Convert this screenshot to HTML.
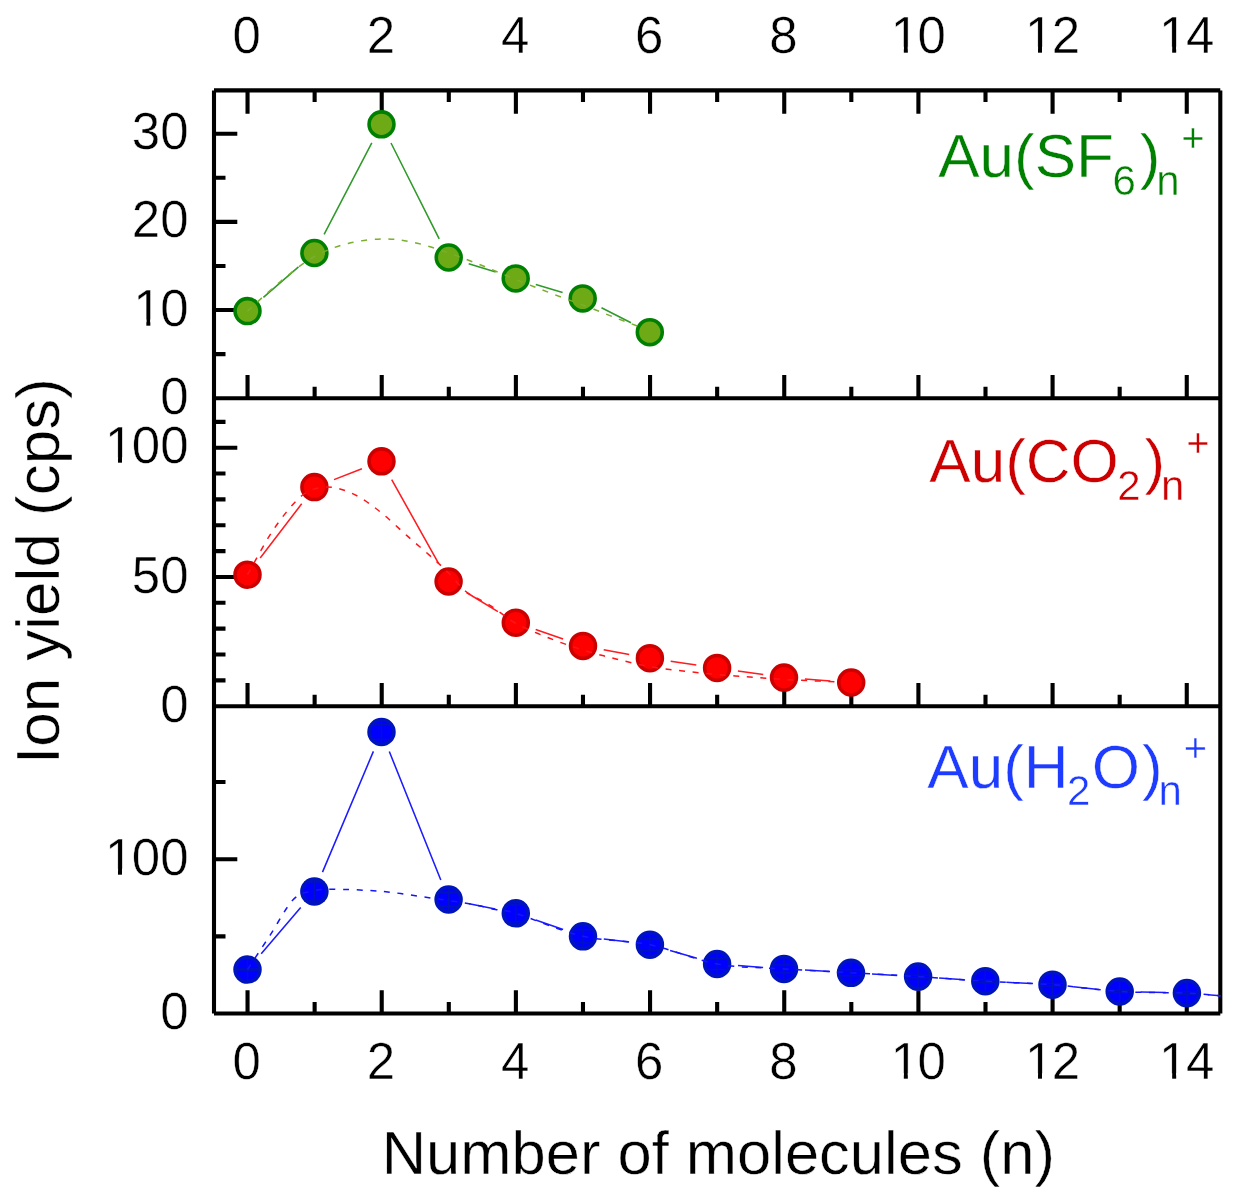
<!DOCTYPE html><html><head><meta charset="utf-8"><title>Ion yield</title><style>html,body{margin:0;padding:0;background:#fff}body{width:1238px;height:1200px;position:relative;overflow:hidden}</style></head><body><svg width="1238" height="1200" viewBox="0 0 1238 1200" style="position:absolute;left:0;top:0">
<rect width="1238" height="1200" fill="#fff"/>
<g stroke="#000" stroke-width="4.1" fill="none" stroke-linecap="butt">
<path d="M214.0 1013.5V90.4M214.0 90.4H1220.3M1220.3 90.4V1013.5"/>
<path d="M214.0 1013.5H1220.3M214.0 398.2H1220.3M214.0 706.2H1220.3"/>
<path d="M247.54 90.4v23.3M247.54 398.2v-23.3M247.54 706.2v-23.3M247.54 1013.5v-23.3M314.63 90.4v11.5M314.63 398.2v-11.5M314.63 706.2v-11.5M314.63 1013.5v-11.5M381.72 90.4v23.3M381.72 398.2v-23.3M381.72 706.2v-23.3M381.72 1013.5v-23.3M448.80 90.4v11.5M448.80 398.2v-11.5M448.80 706.2v-11.5M448.80 1013.5v-11.5M515.89 90.4v23.3M515.89 398.2v-23.3M515.89 706.2v-23.3M515.89 1013.5v-23.3M582.98 90.4v11.5M582.98 398.2v-11.5M582.98 706.2v-11.5M582.98 1013.5v-11.5M650.06 90.4v23.3M650.06 398.2v-23.3M650.06 706.2v-23.3M650.06 1013.5v-23.3M717.15 90.4v11.5M717.15 398.2v-11.5M717.15 706.2v-11.5M717.15 1013.5v-11.5M784.24 90.4v23.3M784.24 398.2v-23.3M784.24 706.2v-23.3M784.24 1013.5v-23.3M851.32 90.4v11.5M851.32 398.2v-11.5M851.32 706.2v-11.5M851.32 1013.5v-11.5M918.41 90.4v23.3M918.41 398.2v-23.3M918.41 706.2v-23.3M918.41 1013.5v-23.3M985.50 90.4v11.5M985.50 398.2v-11.5M985.50 706.2v-11.5M985.50 1013.5v-11.5M1052.58 90.4v23.3M1052.58 398.2v-23.3M1052.58 706.2v-23.3M1052.58 1013.5v-23.3M1119.67 90.4v11.5M1119.67 398.2v-11.5M1119.67 706.2v-11.5M1119.67 1013.5v-11.5M1186.76 90.4v23.3M1186.76 398.2v-23.3M1186.76 706.2v-23.3M1186.76 1013.5v-23.3"/>
<path d="M214.0 354.12h11.5M214.0 310.03h23.3M214.0 265.94h11.5M214.0 221.86h23.3M214.0 177.77h11.5M214.0 133.69h23.3"/>
<path d="M214.0 680.35h11.5M214.0 654.50h11.5M214.0 628.65h11.5M214.0 602.80h11.5M214.0 576.95h23.3M214.0 551.10h11.5M214.0 525.25h11.5M214.0 499.40h11.5M214.0 473.55h11.5M214.0 447.70h23.3M214.0 421.85h11.5"/>
<path d="M214.0 936.35h11.5M214.0 859.20h23.3M214.0 782.05h11.5"/>
</g>
<path d="M263.4 297.3L298.5 266.8M324.1 234.4L371.8 142.9M391.0 143.0L439.2 238.8M468.7 263.8L495.7 272.1M535.8 284.4L562.6 292.4M601.5 307.8L631.0 322.8" fill="none" stroke="#2f9a2a" stroke-width="1.55"/>
<circle cx="247.5" cy="311.1" r="12.45" fill="#6eaa16" stroke="#008000" stroke-width="3.6"/>
<circle cx="314.4" cy="253.0" r="12.45" fill="#6eaa16" stroke="#008000" stroke-width="3.6"/>
<circle cx="381.5" cy="124.3" r="12.45" fill="#6eaa16" stroke="#008000" stroke-width="3.6"/>
<circle cx="448.7" cy="257.5" r="12.45" fill="#6eaa16" stroke="#008000" stroke-width="3.6"/>
<circle cx="515.7" cy="278.4" r="12.45" fill="#6eaa16" stroke="#008000" stroke-width="3.6"/>
<circle cx="582.7" cy="298.4" r="12.45" fill="#6eaa16" stroke="#008000" stroke-width="3.6"/>
<circle cx="649.8" cy="332.2" r="12.45" fill="#6eaa16" stroke="#008000" stroke-width="3.6"/>
<path d="M247.5 311.1C253.1 306.1 269.9 290.1 281.0 281.0C292.1 271.9 303.2 262.8 314.4 256.5C325.6 250.2 336.4 246.4 348.0 243.5C359.6 240.6 372.7 239.0 384.0 238.9C395.3 238.8 405.2 240.7 416.0 243.0C426.8 245.3 437.7 249.2 448.7 253.0C459.7 256.8 470.8 261.1 482.0 265.5C493.2 269.9 504.5 275.0 515.7 279.5C526.9 284.0 537.8 288.2 549.0 292.5C560.2 296.8 571.5 300.8 582.7 305.0C593.9 309.2 606.5 314.3 616.0 318.0C625.5 321.7 636.0 325.5 640.0 327.0" fill="none" stroke="#7aae2e" stroke-width="1.5" stroke-dasharray="6 7.6"/>
<path d="M260.2 558.0L301.7 503.8M334.0 479.6L361.9 468.8M391.7 479.6L438.4 563.2M466.5 592.5L497.9 611.7M535.7 629.6L563.1 639.0M603.7 649.7L629.2 654.4M670.7 661.2L696.3 664.9M737.9 670.9L763.2 674.6M804.9 679.1L830.3 681.0" fill="none" stroke="#ff1c20" stroke-width="1.55"/>
<circle cx="247.5" cy="574.7" r="12.45" fill="#ff0000" stroke="#cc0000" stroke-width="3.6"/>
<circle cx="314.4" cy="487.1" r="12.45" fill="#ff0000" stroke="#cc0000" stroke-width="3.6"/>
<circle cx="381.5" cy="461.3" r="12.45" fill="#ff0000" stroke="#cc0000" stroke-width="3.6"/>
<circle cx="448.6" cy="581.5" r="12.45" fill="#ff0000" stroke="#cc0000" stroke-width="3.6"/>
<circle cx="515.8" cy="622.7" r="12.45" fill="#ff0000" stroke="#cc0000" stroke-width="3.6"/>
<circle cx="583.0" cy="645.9" r="12.45" fill="#ff0000" stroke="#cc0000" stroke-width="3.6"/>
<circle cx="649.9" cy="658.2" r="12.45" fill="#ff0000" stroke="#cc0000" stroke-width="3.6"/>
<circle cx="717.1" cy="667.9" r="12.45" fill="#ff0000" stroke="#cc0000" stroke-width="3.6"/>
<circle cx="784.0" cy="677.6" r="12.45" fill="#ff0000" stroke="#cc0000" stroke-width="3.6"/>
<circle cx="851.2" cy="682.5" r="12.45" fill="#ff0000" stroke="#cc0000" stroke-width="3.6"/>
<path d="M247.5 574.7C251.0 568.5 261.9 548.1 268.3 537.7C274.7 527.4 280.1 519.9 286.0 512.6C291.9 505.3 298.0 498.2 304.0 494.0C310.0 489.8 316.0 488.1 322.0 487.3C328.0 486.5 333.6 487.3 340.0 489.0C346.4 490.7 353.1 493.5 360.2 497.6C367.3 501.8 374.8 507.4 382.7 513.9C390.6 520.4 399.4 529.0 407.8 536.4C416.2 543.8 426.0 552.1 432.8 558.2C439.6 564.3 443.0 567.4 448.6 573.0C454.2 578.6 459.7 586.6 466.6 592.0C473.5 597.4 481.8 600.1 490.0 605.3C498.2 610.5 506.0 617.8 515.8 623.3C525.6 628.8 537.8 633.5 549.0 638.0C560.2 642.5 571.8 646.5 583.0 650.0C594.2 653.5 604.9 656.2 616.0 659.0C627.1 661.8 638.7 664.6 649.9 666.6C661.1 668.6 671.8 669.7 683.0 671.0C694.2 672.3 705.9 673.5 717.1 674.5C728.3 675.5 738.9 676.2 750.0 677.0C761.1 677.8 772.8 678.8 784.0 679.5C795.2 680.2 807.7 680.6 817.0 681.0C826.3 681.4 836.2 681.7 840.0 681.8" fill="none" stroke="#ff1418" stroke-width="1.5" stroke-dasharray="6 7.6"/>
<path d="M261.2 953.7L300.7 907.4M322.5 872.1L373.4 751.4M389.3 751.5L440.8 880.0M469.2 903.7L495.2 909.1M535.7 920.1L563.1 929.5M603.8 938.9L629.1 942.1M670.1 950.5L696.9 958.2M738.0 965.5L763.1 967.4M805.0 970.1L830.0 971.6M872.0 974.0L897.1 975.4M939.1 978.0L964.3 979.8M1006.3 982.3L1031.5 983.6M1073.4 986.8L1098.8 989.4M1140.7 992.0L1165.9 992.6M1207.8 994.7L1220.5 995.7" fill="none" stroke="#1c1cff" stroke-width="1.55"/>
<circle cx="247.5" cy="969.6" r="12.45" fill="#0000ff" stroke="#0014be" stroke-width="3.6"/>
<path d="M247.5 957.6V981.6M236.0 968.8000000000001H259.0M236.0 970.4H259.0" stroke="#0014be" stroke-width="1.35" fill="none" opacity="0.95"/>
<circle cx="314.4" cy="891.5" r="12.45" fill="#0000ff" stroke="#0014be" stroke-width="3.6"/>
<path d="M314.4 879.5V903.5M304.0 882.1H324.8M304.0 900.9H324.8" stroke="#0014be" stroke-width="1.35" fill="none" opacity="0.95"/>
<circle cx="381.5" cy="732.0" r="12.45" fill="#0000ff" stroke="#0014be" stroke-width="3.6"/>
<path d="M381.5 720.0V744.0M370.0 724.5H393.0M370.0 739.5H393.0" stroke="#0014be" stroke-width="1.35" fill="none" opacity="0.95"/>
<circle cx="448.6" cy="899.5" r="12.45" fill="#0000ff" stroke="#0014be" stroke-width="3.6"/>
<path d="M448.6 887.5V911.5M437.1 892.5H460.1M437.1 906.5H460.1" stroke="#0014be" stroke-width="1.35" fill="none" opacity="0.95"/>
<circle cx="515.8" cy="913.3" r="12.45" fill="#0000ff" stroke="#0014be" stroke-width="3.6"/>
<path d="M515.8 901.3V925.3M504.7 904.8H526.9M504.7 921.8H526.9" stroke="#0014be" stroke-width="1.35" fill="none" opacity="0.95"/>
<circle cx="583.0" cy="936.3" r="12.45" fill="#0000ff" stroke="#0014be" stroke-width="3.6"/>
<path d="M583.0 924.3V948.3M571.5 929.8H594.5M571.5 942.8H594.5" stroke="#0014be" stroke-width="1.35" fill="none" opacity="0.95"/>
<circle cx="649.9" cy="944.7" r="12.45" fill="#0000ff" stroke="#0014be" stroke-width="3.6"/>
<path d="M649.9 932.7V956.7M638.4 938.7H661.4M638.4 950.7H661.4" stroke="#0014be" stroke-width="1.35" fill="none" opacity="0.95"/>
<circle cx="717.1" cy="964.0" r="12.45" fill="#0000ff" stroke="#0014be" stroke-width="3.6"/>
<path d="M717.1 952.0V976.0M705.6 958.5H728.6M705.6 969.5H728.6" stroke="#0014be" stroke-width="1.35" fill="none" opacity="0.95"/>
<circle cx="784.0" cy="968.9" r="12.45" fill="#0000ff" stroke="#0014be" stroke-width="3.6"/>
<path d="M784.0 956.9V980.9M772.5 964.9H795.5M772.5 972.9H795.5" stroke="#0014be" stroke-width="1.35" fill="none" opacity="0.95"/>
<circle cx="851.0" cy="972.8" r="12.45" fill="#0000ff" stroke="#0014be" stroke-width="3.6"/>
<path d="M851.0 960.8V984.8M839.5 969.8H862.5M839.5 975.8H862.5" stroke="#0014be" stroke-width="1.35" fill="none" opacity="0.95"/>
<circle cx="918.1" cy="976.6" r="12.45" fill="#0000ff" stroke="#0014be" stroke-width="3.6"/>
<path d="M918.1 964.6V988.6M906.6 975.1H929.6M906.6 978.1H929.6" stroke="#0014be" stroke-width="1.35" fill="none" opacity="0.95"/>
<circle cx="985.3" cy="981.2" r="12.45" fill="#0000ff" stroke="#0014be" stroke-width="3.6"/>
<path d="M985.3 969.2V993.2M973.8 979.7H996.8M973.8 982.7H996.8" stroke="#0014be" stroke-width="1.35" fill="none" opacity="0.95"/>
<circle cx="1052.5" cy="984.7" r="12.45" fill="#0000ff" stroke="#0014be" stroke-width="3.6"/>
<path d="M1052.5 972.7V996.7M1041.0 983.3000000000001H1064.0M1041.0 986.1H1064.0" stroke="#0014be" stroke-width="1.35" fill="none" opacity="0.95"/>
<circle cx="1119.7" cy="991.5" r="12.45" fill="#0000ff" stroke="#0014be" stroke-width="3.6"/>
<path d="M1119.7 979.5V1003.5M1108.2 990.2H1131.2M1108.2 992.8H1131.2" stroke="#0014be" stroke-width="1.35" fill="none" opacity="0.95"/>
<circle cx="1186.9" cy="993.1" r="12.45" fill="#0000ff" stroke="#0014be" stroke-width="3.6"/>
<path d="M1186.9 981.1V1005.1M1175.4 991.8000000000001H1198.4M1175.4 994.4H1198.4" stroke="#0014be" stroke-width="1.35" fill="none" opacity="0.95"/>
<path d="M247.5 969.6C251.2 963.9 262.5 946.8 270.0 935.3C277.5 923.8 285.9 907.6 292.6 900.3C299.3 893.0 303.3 893.3 310.0 891.5C316.7 889.7 320.6 889.3 332.7 889.3C344.8 889.3 366.0 890.0 382.7 891.5C399.4 893.0 418.2 896.2 432.8 898.3C447.4 900.4 460.0 902.1 470.4 904.0C480.8 905.9 487.8 908.0 495.4 909.5C503.0 911.0 501.2 908.8 515.8 913.3C530.4 917.8 560.6 931.1 583.0 936.3C605.4 941.5 627.5 940.1 649.9 944.7C672.2 949.3 694.8 960.0 717.1 964.0C739.5 968.0 761.7 967.4 784.0 968.9C806.3 970.4 828.6 971.5 851.0 972.8C873.4 974.1 895.7 975.2 918.1 976.6C940.5 978.0 962.9 979.9 985.3 981.2C1007.7 982.6 1030.1 983.0 1052.5 984.7C1074.9 986.4 1097.3 990.1 1119.7 991.5C1142.1 992.9 1170.1 992.4 1186.9 993.1C1203.7 993.8 1214.9 995.3 1220.5 995.7" fill="none" stroke="#1414ff" stroke-width="1.5" stroke-dasharray="6 7.6"/>
<g font-family="'Liberation Sans', sans-serif" fill="#000" stroke="#fff" stroke-width="0.45">
<g transform="translate(246.74 52.80) scale(1 1.015)"><text font-size="51" x="-14.18">0</text>
</g>
<g transform="translate(246.74 1079.40) scale(1 1.015)"><text font-size="51" x="-14.18">0</text>
</g>
<g transform="translate(380.92 52.80) scale(1 1.015)"><text font-size="51" x="-14.18">2</text>
</g>
<g transform="translate(380.92 1079.40) scale(1 1.015)"><text font-size="51" x="-14.18">2</text>
</g>
<g transform="translate(515.09 52.80) scale(1 1.015)"><text font-size="51" x="-14.18">4</text>
</g>
<g transform="translate(515.09 1079.40) scale(1 1.015)"><text font-size="51" x="-14.18">4</text>
</g>
<g transform="translate(649.26 52.80) scale(1 1.015)"><text font-size="51" x="-14.18">6</text>
</g>
<g transform="translate(649.26 1079.40) scale(1 1.015)"><text font-size="51" x="-14.18">6</text>
</g>
<g transform="translate(783.44 52.80) scale(1 1.015)"><text font-size="51" x="-14.18">8</text>
</g>
<g transform="translate(783.44 1079.40) scale(1 1.015)"><text font-size="51" x="-14.18">8</text>
</g>
<g transform="translate(917.61 52.80) scale(1 1.015)"><text font-size="51" x="-26.86 0.00">10</text>
<path d="M-24.62 -5.98H-13.79V1H-24.62ZM-9.78 -5.98H0.16V1H-9.78Z" fill="#fff" stroke="none"/>
</g>
<g transform="translate(917.61 1079.40) scale(1 1.015)"><text font-size="51" x="-26.86 0.00">10</text>
<path d="M-24.62 -5.98H-13.79V1H-24.62ZM-9.78 -5.98H0.16V1H-9.78Z" fill="#fff" stroke="none"/>
</g>
<g transform="translate(1051.78 52.80) scale(1 1.015)"><text font-size="51" x="-26.86 0.00">12</text>
<path d="M-24.62 -5.98H-13.79V1H-24.62ZM-9.78 -5.98H0.16V1H-9.78Z" fill="#fff" stroke="none"/>
</g>
<g transform="translate(1051.78 1079.40) scale(1 1.015)"><text font-size="51" x="-26.86 0.00">12</text>
<path d="M-24.62 -5.98H-13.79V1H-24.62ZM-9.78 -5.98H0.16V1H-9.78Z" fill="#fff" stroke="none"/>
</g>
<g transform="translate(1185.96 52.80) scale(1 1.015)"><text font-size="51" x="-26.86 0.00">14</text>
<path d="M-24.62 -5.98H-13.79V1H-24.62ZM-9.78 -5.98H0.16V1H-9.78Z" fill="#fff" stroke="none"/>
</g>
<g transform="translate(1185.96 1079.40) scale(1 1.015)"><text font-size="51" x="-26.86 0.00">14</text>
<path d="M-24.62 -5.98H-13.79V1H-24.62ZM-9.78 -5.98H0.16V1H-9.78Z" fill="#fff" stroke="none"/>
</g>
<g transform="translate(188.50 413.80) scale(1 1.015)"><text font-size="51" x="-28.36">0</text>
</g>
<g transform="translate(188.50 325.63) scale(1 1.015)"><text font-size="51" x="-55.23 -28.36">10</text>
<path d="M-52.99 -5.98H-42.15V1H-52.99ZM-38.15 -5.98H-28.21V1H-38.15Z" fill="#fff" stroke="none"/>
</g>
<g transform="translate(188.50 237.46) scale(1 1.015)"><text font-size="51" x="-56.73 -28.36">20</text>
</g>
<g transform="translate(188.50 149.29) scale(1 1.015)"><text font-size="51" x="-56.73 -28.36">30</text>
</g>
<g transform="translate(188.50 721.80) scale(1 1.015)"><text font-size="51" x="-28.36">0</text>
</g>
<g transform="translate(188.50 592.55) scale(1 1.015)"><text font-size="51" x="-56.73 -28.36">50</text>
</g>
<g transform="translate(188.50 463.30) scale(1 1.015)"><text font-size="51" x="-83.59 -56.73 -28.36">100</text>
<path d="M-81.35 -5.98H-70.52V1H-81.35ZM-66.51 -5.98H-56.57V1H-66.51Z" fill="#fff" stroke="none"/>
</g>
<g transform="translate(188.50 1029.10) scale(1 1.015)"><text font-size="51" x="-28.36">0</text>
</g>
<g transform="translate(188.50 874.80) scale(1 1.015)"><text font-size="51" x="-83.59 -56.73 -28.36">100</text>
<path d="M-81.35 -5.98H-70.52V1H-81.35ZM-66.51 -5.98H-56.57V1H-66.51Z" fill="#fff" stroke="none"/>
</g>
<text x="718.3" y="1173.9" font-size="61.5" text-anchor="middle">Number of molecules (n)</text>
<text transform="translate(58.5 571.1) rotate(-90)" font-size="62" text-anchor="middle">Ion yield (cps)</text>
<text x="938.2" y="177.3" font-size="62" fill="#008000">Au(SF<tspan font-size="42" dx="-1.5" dy="17.5">6</tspan><tspan dx="3.9" dy="-17.5">)</tspan><tspan font-size="42" dx="-4.2" dy="17.5">n</tspan><tspan font-size="40" dx="1.8" dy="-42.8">+</tspan></text>
<text x="929.3" y="482.3" font-size="62" fill="#cc0000">Au(CO<tspan font-size="42" dx="-1.5" dy="17.5">2</tspan><tspan dx="3.9" dy="-17.5">)</tspan><tspan font-size="42" dx="-4.2" dy="17.5">n</tspan><tspan font-size="40" dx="1.8" dy="-42.8">+</tspan></text>
<text x="927.3" y="787.7" font-size="62" fill="#1e3cff">Au(H<tspan font-size="42" dx="-1.5" dy="17.5">2</tspan><tspan dx="1.4" dy="-17.5">O</tspan><tspan dx="2.0">)</tspan><tspan font-size="42" dx="-4.2" dy="17.5">n</tspan><tspan font-size="40" dx="1.8" dy="-42.8">+</tspan></text>
</g>
</svg></body></html>
